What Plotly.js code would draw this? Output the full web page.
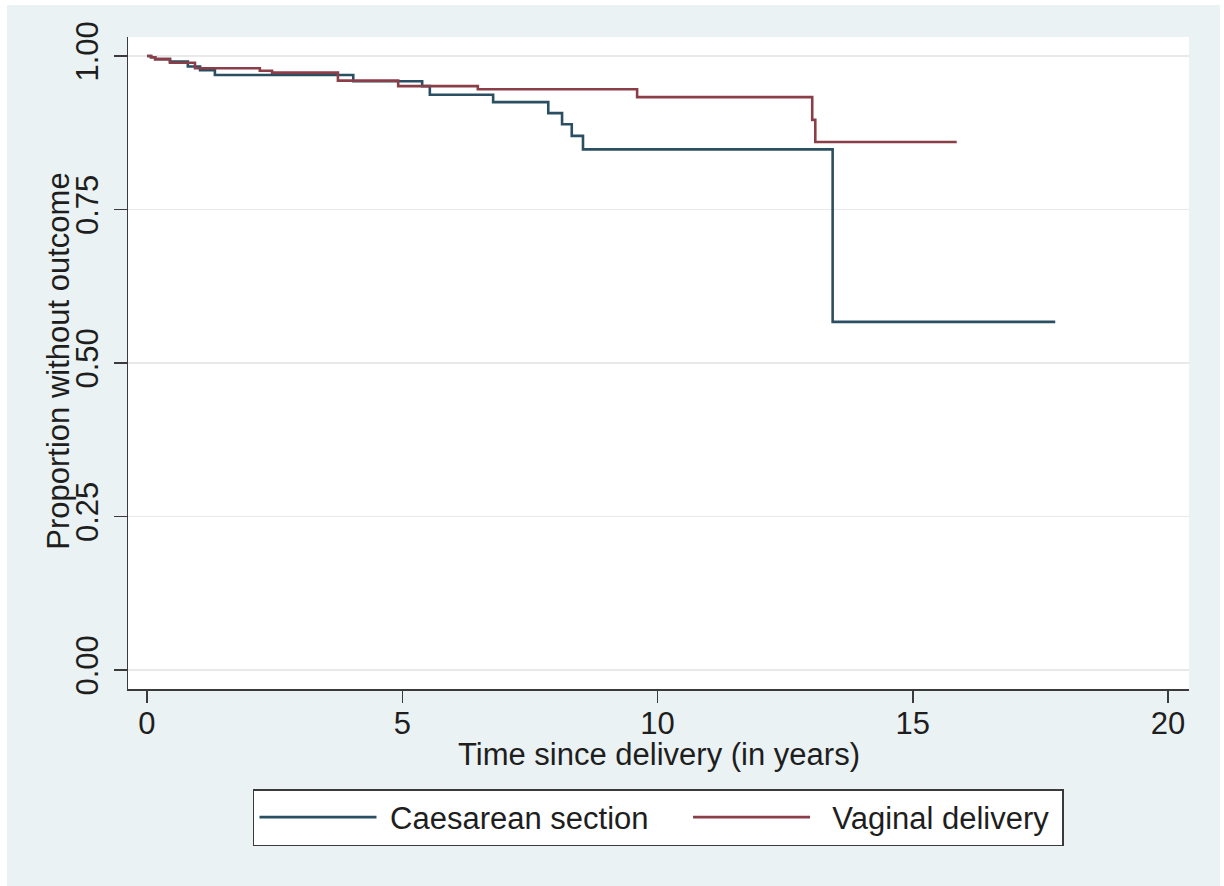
<!DOCTYPE html>
<html>
<head>
<meta charset="utf-8">
<script src="https://cdn.plot.ly/plotly-3.0.1.min.js"></script>
<style>
  html, body { margin: 0; padding: 0; background: #ffffff; width: 1224px; height: 886px; overflow: hidden; }
  #chart { position: absolute; left: 7px; top: 5px; width: 1213px; height: 881px; }
</style>
</head>
<body>
<div id="chart"></div>
<script>
// Kaplan-Meier step points (time in years, proportion without outcome)
const caesareanTime = [0, 0.08, 0.16, 0.45, 0.80, 1.04, 1.33, 4.04, 5.39, 5.54, 6.78, 7.86, 8.13, 8.32, 8.54, 13.43, 17.79];
const caesareanSurv = [1.000, 0.998, 0.995, 0.991, 0.983, 0.977, 0.969, 0.959, 0.951, 0.937, 0.925, 0.907, 0.889, 0.870, 0.848, 0.567, 0.567];

const vaginalTime = [0, 0.08, 0.16, 0.45, 0.94, 2.21, 2.45, 3.74, 4.92, 6.48, 9.60, 13.03, 13.09, 15.86];
const vaginalSurv = [1.000, 0.998, 0.995, 0.989, 0.980, 0.976, 0.973, 0.960, 0.951, 0.946, 0.933, 0.896, 0.860, 0.860];

const seriesNames = ["Caesarean section", "Vaginal delivery"];
const yTickVals = [0, 0.25, 0.5, 0.75, 1];
const yTickText = ["0.00", "0.25", "0.50", "0.75", "1.00"];
const xTickVals = [0, 5, 10, 15, 20];
const xTickText = ["0", "5", "10", "15", "20"];
const xTitle = "Time since delivery (in years)";
const yTitle = "Proportion without outcome";

const FONT = '"Liberation Sans", Arial, Helvetica, sans-serif';
const TXT = '#1e1e1e';
const FS = 31;
const NB = '\u00a0';

const traces = [
  {
    x: caesareanTime, y: caesareanSurv, name: NB + seriesNames[0] + NB + NB + NB + NB,
    type: 'scatter', mode: 'lines',
    line: { shape: 'hv', color: '#2b4f62', width: 2.6 }
  },
  {
    x: vaginalTime, y: vaginalSurv, name: NB + NB + seriesNames[1] + NB,
    type: 'scatter', mode: 'lines',
    line: { shape: 'hv', color: '#8a3f48', width: 2.6 }
  }
];

const layout = {
  width: 1213, height: 881,
  margin: { l: 121, r: 31, t: 32, b: 197 },
  paper_bgcolor: 'rgb(234,242,243)',
  plot_bgcolor: '#ffffff',
  font: { family: FONT, color: TXT, size: FS },
  showlegend: true,
  legend: {
    orientation: 'h',
    x: 0.1178, xanchor: 'left',
    y: -0.1534, yanchor: 'top',
    bgcolor: '#ffffff',
    bordercolor: '#3a3a3a',
    borderwidth: 1.5,
    font: { family: FONT, size: FS, color: TXT },
    itemwidth: 117,
    traceorder: 'normal'
  },
  xaxis: {
    range: [-0.372, 20.41],
    tickvals: xTickVals, ticktext: xTickText,
    ticks: 'outside', ticklen: 12, tickwidth: 1.5, tickcolor: '#3a3a3a',
    showline: true, linecolor: '#3a3a3a', linewidth: 1.5,
    showgrid: false, zeroline: false,
    tickfont: { family: FONT, size: FS, color: TXT },
    ticklabelstandoff: -6,
    fixedrange: true
  },
  yaxis: {
    range: [-0.031, 1.031],
    tickvals: yTickVals, ticktext: yTickText,
    tickangle: -90,
    ticks: 'outside', ticklen: 13, tickwidth: 1.5, tickcolor: '#3a3a3a',
    showline: true, linecolor: '#3a3a3a', linewidth: 1.5,
    showgrid: true, gridcolor: '#e9e9e9', gridwidth: 1.5,
    zeroline: false,
    tickfont: { family: FONT, size: FS, color: TXT },
    ticklabelstandoff: 3,
    fixedrange: true
  },
  annotations: [
    {
      text: xTitle, xref: 'paper', yref: 'paper',
      x: 0.5, y: -0.100, xanchor: 'center', yanchor: 'middle',
      showarrow: false, font: { family: FONT, size: FS, color: TXT }
    },
    {
      text: yTitle, xref: 'paper', yref: 'paper',
      x: -0.065, y: 0.502, xanchor: 'center', yanchor: 'middle',
      textangle: -90,
      showarrow: false, font: { family: FONT, size: FS, color: TXT }
    }
  ]
};

Plotly.newPlot('chart', traces, layout, { displayModeBar: false, staticPlot: true });
</script>
</body>
</html>
